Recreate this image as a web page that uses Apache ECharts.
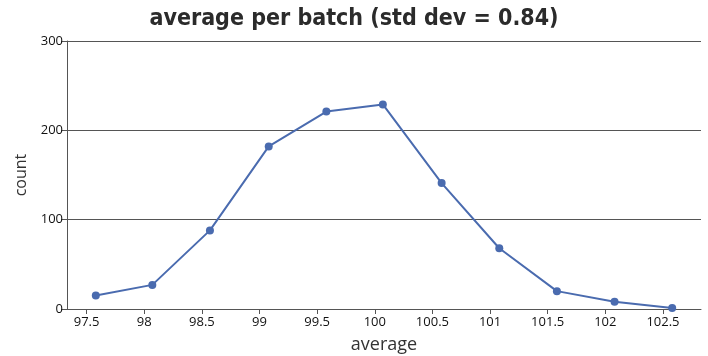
<!DOCTYPE html>
<html>
<head>
<meta charset="utf-8">
<script src="https://cdn.jsdelivr.net/npm/echarts@6/dist/echarts.min.js"></script>
<style>html,body{margin:0;padding:0;background:#fff}#c{width:708px;height:356px}</style>
</head>
<body>
<div id="c"></div>
<script>
const xValues = [97.58, 98.07, 98.57, 99.08, 99.58, 100.07, 100.58, 101.08, 101.58, 102.08, 102.58];
const counts = [15, 27, 88, 182, 221, 229, 141, 68, 20, 8, 1];
const xTicks = [97.5, 98, 98.5, 99, 99.5, 100, 100.5, 101, 101.5, 102, 102.5];

const chart = echarts.init(document.getElementById('c'), null, {renderer: 'canvas'});
const axisColor = '#555';
chart.setOption({
  animation: false,
  title: {
    text: 'average per batch (std dev = 0.84)',
    left: 'center', top: 3,
    textStyle: {fontFamily: "'DejaVu Sans Condensed', 'DejaVu Sans', sans-serif", fontWeight: 'bold', fontSize: 23, color: '#2b2b2b'}
  },
  grid: {left: 67, right: 7, top: 41, bottom: 47, outerBoundsMode: 'none', containLabel: false},
  xAxis: {
    type: 'value', min: 97.33, max: 102.83,
    name: 'average', nameLocation: 'middle', nameGap: 27,
    nameTextStyle: {fontFamily: 'Open Sans', fontSize: 18, color: '#333'},
    axisLine: {show: true, lineStyle: {color: axisColor, width: 1}},
    axisTick: {show: true, length: 5, lineStyle: {color: axisColor}, customValues: xTicks},
    axisLabel: {fontFamily: 'Open Sans', fontSize: 13, color: '#111', margin: 7, customValues: xTicks},
    splitLine: {show: false}
  },
  yAxis: {
    type: 'value', min: 0, max: 300, interval: 100,
    name: 'count', nameLocation: 'middle', nameGap: 38,
    nameTextStyle: {fontFamily: 'Open Sans', fontSize: 16, color: '#333'},
    axisLine: {show: true, lineStyle: {color: axisColor, width: 1}},
    axisTick: {show: true, length: 6, lineStyle: {color: axisColor}},
    axisLabel: {fontFamily: 'Open Sans', fontSize: 13, color: '#111', margin: 4},
    splitLine: {show: true, lineStyle: {color: axisColor, width: 1}}
  },
  series: [{
    type: 'line',
    data: xValues.map((x, i) => [x, counts[i]]),
    symbol: 'circle', symbolSize: 8,
    lineStyle: {color: '#4a6baf', width: 2},
    itemStyle: {color: '#4a6baf'}
  }]
});
</script>
</body>
</html>
